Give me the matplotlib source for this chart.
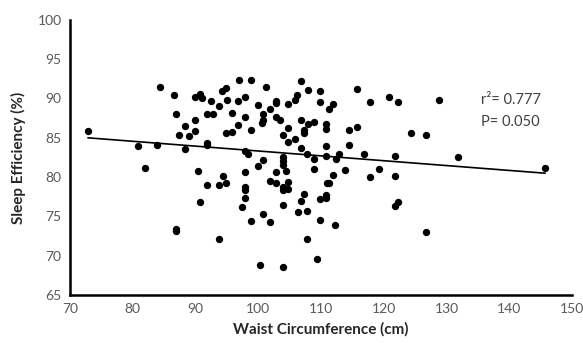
import matplotlib.pyplot as plt
import numpy as np

# 腰围 (cm) 与睡眠效率 (%) 读数
waist = [72.9, 84.3, 86.6, 86.9, 88.4, 87.3, 89.0, 80.9, 83.9, 88.4,
         82.0, 96.9, 98.8, 101.3, 106.8, 107.9, 89.9, 90.8, 91.0, 92.4,
         94.3, 94.9, 95.0, 93.8, 96.8, 97.9, 99.9, 102.8, 102.9, 104.8,
         105.9, 106.2, 101.9, 91.9, 92.8, 95.9, 97.9, 100.8, 100.7, 100.6,
         102.8, 103.4, 89.9, 89.9, 94.9, 95.9, 96.8, 98.8, 104.8, 103.9,
         104.8, 105.9, 106.8, 107.9, 107.3, 107.3, 91.9, 91.9, 97.9, 98.4,
         106.8, 107.7, 100.8, 99.9, 103.9, 103.9, 103.9, 102.9, 104.4, 90.4,
         97.9, 94.4, 94.9, 93.8, 91.9, 97.9, 97.9, 97.9, 101.9, 102.9,
         104.8, 103.9, 103.9, 104.8, 107.3, 106.8, 106.3, 107.8, 103.9, 90.8,
         97.4, 100.8, 98.8, 101.9, 93.8, 107.8, 100.3, 103.9, 110.9, 111.3,
         110.8, 110.8, 109.8, 109.8, 112.3, 109.3, 121.8, 122.3, 126.7, 109.8,
         109.8, 111.3, 111.9, 115.8, 117.8, 120.8, 122.3, 108.9, 110.8, 110.8,
         114.4, 115.8, 124.3, 126.7, 108.9, 110.8, 110.8, 114.4, 112.4, 112.9,
         116.9, 121.8, 108.9, 113.8, 119.3, 111.9, 117.8, 121.8, 128.8, 131.8,
         145.7, 86.9, 86.9]
efficiency = [85.9, 91.4, 90.5, 88.0, 86.5, 85.4, 85.2, 83.9, 84.1, 83.6,
              81.1, 92.4, 92.4, 91.4, 92.2, 91.1, 90.2, 90.6, 90.0, 89.7,
              91.0, 91.3, 89.8, 89.1, 89.7, 90.2, 89.2, 89.7, 89.4, 89.3,
              89.8, 90.5, 88.6, 88.0, 88.0, 88.1, 87.7, 88.0, 87.3, 86.9,
              87.7, 87.3, 87.3, 85.9, 85.6, 85.8, 86.6, 86.0, 86.3, 85.4,
              84.5, 84.8, 87.2, 86.8, 86.0, 85.6, 84.4, 84.1, 83.3, 82.9,
              83.7, 83.0, 82.2, 81.4, 82.6, 82.0, 81.5, 80.7, 80.8, 80.8,
              80.7, 80.1, 79.2, 79.0, 79.0, 78.7, 78.4, 77.4, 79.5, 79.2,
              79.4, 78.7, 78.4, 78.5, 77.9, 77.0, 75.5, 75.7, 76.4, 76.8,
              76.2, 75.3, 74.4, 74.3, 72.1, 72.1, 68.8, 68.5, 79.3, 79.3,
              77.7, 77.4, 77.2, 74.5, 73.9, 69.6, 76.3, 76.8, 73.0, 90.9,
              89.5, 88.6, 89.3, 91.2, 89.5, 90.2, 89.6, 87.0, 86.8, 86.1,
              86.0, 86.4, 85.6, 85.4, 82.3, 84.0, 82.7, 84.1, 82.3, 82.9,
              82.9, 82.7, 81.0, 80.9, 81.0, 80.3, 80.0, 80.1, 89.8, 82.6,
              81.2, 73.4, 73.1]

# 趋势线参数
fit_slope = -0.0618
fit_intercept = 89.5

x_ticks = [70, 80, 90, 100, 110, 120, 130, 140, 150]
y_ticks = [65, 70, 75, 80, 85, 90, 95, 100]

plt.rcParams['font.family'] = ['Lato', 'DejaVu Sans']

fig = plt.figure(figsize=(5.83, 3.43), dpi=100)
ax = fig.add_axes([0.120, 0.140, 0.861, 0.802])

ax.scatter(waist, efficiency, s=28, color='black', zorder=3, linewidths=0)

xs = np.array([min(waist), max(waist)])
ax.plot(xs, fit_slope * xs + fit_intercept, color='black', linewidth=1.2)

ax.text(135.5, 89.8, 'r\u00b2= 0.777', fontsize=10.5, color='#404040', va='center')
ax.text(135.5, 87.0, 'P= 0.050', fontsize=10.5, color='#404040', va='center')

ax.set_xlim(70, 150)
ax.set_ylim(65, 100)
ax.set_xticks(x_ticks)
ax.set_yticks(y_ticks)
ax.tick_params(length=0, labelsize=10, colors='#595959', pad=6)
for s in ['top', 'right']:
    ax.spines[s].set_visible(False)
for s in ['left', 'bottom']:
    ax.spines[s].set_linewidth(1.8)
    ax.spines[s].set_color('black')

ax.set_xlabel('Waist Circumference (cm)', fontsize=11, fontweight='bold', color='#262626', labelpad=5)
ax.set_ylabel('Sleep Efficiency (%)', fontsize=11, fontweight='bold', color='#262626', labelpad=8)

plt.savefig('out.png', dpi=100)
